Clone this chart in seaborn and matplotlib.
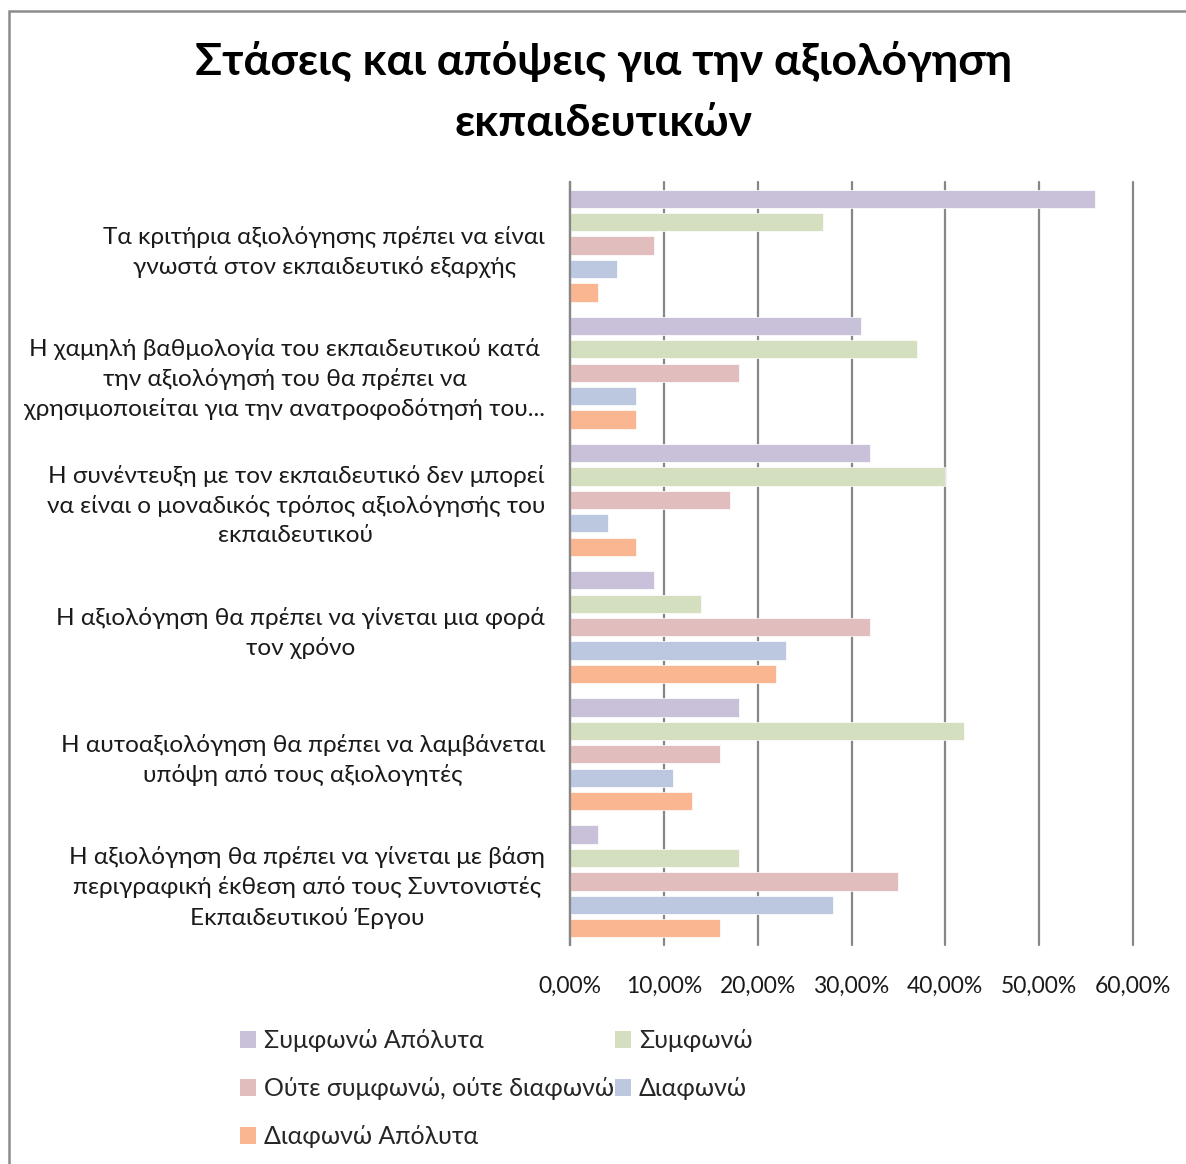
import matplotlib
matplotlib.use("Agg")
import matplotlib.pyplot as plt
from matplotlib.patches import Rectangle, Patch
from matplotlib.ticker import FuncFormatter
import seaborn as sns
import pandas as pd

# Statements (y categories)
statements = [
    "Τα κριτήρια αξιολόγησης πρέπει να είναι\nγνωστά στον εκπαιδευτικό εξαρχής",
    "Η χαμηλή βαθμολογία του εκπαιδευτικού κατά\nτην αξιολόγησή του θα πρέπει να\nχρησιμοποιείται για την ανατροφοδότησή του...",
    "Η συνέντευξη με τον εκπαιδευτικό δεν μπορεί\nνα είναι ο μοναδικός τρόπος αξιολόγησής του\nεκπαιδευτικού",
    "Η αξιολόγηση θα πρέπει να γίνεται μια φορά\nτον χρόνο",
    "Η αυτοαξιολόγηση θα πρέπει να λαμβάνεται\nυπόψη από τους αξιολογητές",
    "Η αξιολόγηση θα πρέπει να γίνεται με βάση\nπεριγραφική έκθεση από τους Συντονιστές\nΕκπαιδευτικού Έργου",
]

# Response options (hue)
responses = ["Συμφωνώ Απόλυτα", "Συμφωνώ", "Ούτε συμφωνώ, ούτε διαφωνώ",
             "Διαφωνώ", "Διαφωνώ Απόλυτα"]

# Share of respondents per statement, one list per response option
agree_fully = [0.56, 0.31, 0.32, 0.09, 0.18, 0.03]
agree = [0.27, 0.37, 0.40, 0.14, 0.42, 0.18]
neutral = [0.09, 0.18, 0.17, 0.32, 0.16, 0.35]
disagree = [0.05, 0.07, 0.04, 0.23, 0.11, 0.28]
disagree_fully = [0.03, 0.07, 0.07, 0.22, 0.13, 0.16]

x_ticks = [0.0, 0.1, 0.2, 0.3, 0.4, 0.5, 0.6]

colors = ["#C8C1D9", "#D3DFBF", "#E2BDBD", "#BCC8E0", "#F9B691"]

series = [agree_fully, agree, neutral, disagree, disagree_fully]
rows = []
for resp, vals in zip(responses, series):
    for st, v in zip(statements, vals):
        rows.append({"statement": st, "response": resp, "share": v})
df = pd.DataFrame(rows)

sns.set_theme(style="white")
plt.rcParams["font.family"] = ["Lato", "DejaVu Sans"]

W, H = 1186, 1164
fig = plt.figure(figsize=(W / 100, H / 100), dpi=100)
fig.patch.set_facecolor("white")

ax = fig.add_axes([570 / W, 1 - 945 / H, (1133 - 570) / W, (945 - 182) / H])
sns.barplot(data=df, y="statement", x="share", hue="response",
            order=statements, hue_order=responses, palette=colors,
            orient="h", width=0.92, gap=0.22, errorbar=None, saturation=1,
            edgecolor="white", linewidth=0.5, legend=False, ax=ax)

ax.set_xlim(0, 0.6)
ax.set_ylim(5.5, -0.5)
ax.set_xticks(x_ticks)
ax.xaxis.set_major_formatter(FuncFormatter(lambda v, p: f"{v * 100:.2f}%".replace(".", ",")))
ax.grid(axis="x", color="#878787", linewidth=1.6)
ax.grid(axis="y", visible=False)
for gl in ax.get_xgridlines():
    gl.set_clip_on(False)
ax.set_axisbelow(True)
for side in ["top", "right", "bottom"]:
    ax.spines[side].set_visible(False)
ax.spines["left"].set_color("#878787")
ax.spines["left"].set_linewidth(1.6)
ax.set_xlabel("")
ax.set_ylabel("")
ax.tick_params(axis="x", length=0, pad=22, labelsize=16.5, colors="#1a1a1a")
ax.tick_params(axis="y", length=0, pad=18, labelsize=17.6, colors="#1a1a1a")
for lab in ax.get_yticklabels():
    lab.set_horizontalalignment("right")
    lab.set_multialignment("center")
    lab.set_linespacing(1.45)

# Title
fig.text(0.509, 1 - 92 / H, "Στάσεις και απόψεις για την αξιολόγηση\nεκπαιδευτικών",
         ha="center", va="center", fontsize=32, fontweight="bold",
         color="black", linespacing=1.62)

# Legend laid out row by row in two columns
handles = [Patch(facecolor=c, edgecolor="none") for c in colors]
order = [0, 2, 4, 1, 3]
fig.legend([handles[i] for i in order], [responses[i] for i in order],
           ncol=2, loc="upper left", bbox_to_anchor=(240 / W, 1 - 1029 / H),
           frameon=False, fontsize=18, handlelength=0.65, handleheight=0.65,
           handletextpad=0.3, columnspacing=0.05, labelspacing=1.0,
           borderaxespad=0, borderpad=0)

# Outer chart frame
fig.patches.append(Rectangle((9 / W, -0.1), 1.2, 1.1 - 11 / H,
                             transform=fig.transFigure, fill=False,
                             edgecolor="#8c8c8c", linewidth=1.8))

fig.savefig("out.png", dpi=100, facecolor="white")
